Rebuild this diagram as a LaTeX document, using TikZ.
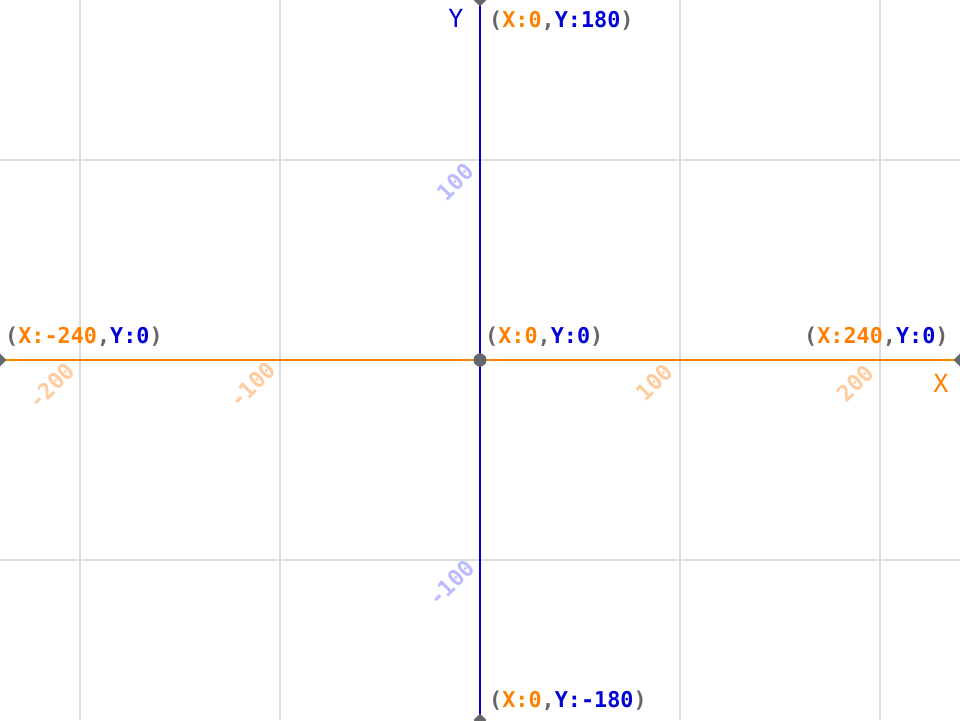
\documentclass[tikz,border=0pt]{standalone}
\usepackage{fontspec}
\setmonofont{DejaVu Sans Mono}
\usetikzlibrary{shapes.geometric}
\definecolor{axorange}{RGB}{255,128,0}
\definecolor{axblue}{RGB}{0,0,215}
\definecolor{lblgray}{RGB}{102,102,102}
\definecolor{gridgray}{RGB}{221,221,221}
\definecolor{tickorange}{RGB}{255,204,160}
\definecolor{tickblue}{RGB}{187,187,255}
\newcommand\coordlbl[2]{{\color{lblgray}(}{\color{axorange}X:#1}{\color{lblgray},}{\color{axblue}Y:#2}{\color{lblgray})}}
\begin{document}
\begin{tikzpicture}[x=1pt,y=1pt,
  gridline/.style={draw=gridgray,line width=2pt},
  coordtext/.style={anchor=base west,inner sep=0pt,font=\fontsize{21.8}{24}\selectfont\ttfamily\bfseries},
  axistext/.style={anchor=base,inner sep=0pt,font=\fontsize{25}{28}\selectfont\ttfamily},
  ticktext/.style={rotate=45,inner sep=0pt,font=\fontsize{22.5}{26}\selectfont\ttfamily\bfseries},
  endmark/.style={diamond,fill=lblgray,inner sep=0pt,minimum size=13pt},
  originmark/.style={circle,fill=lblgray,inner sep=0pt,minimum size=13pt}]
\useasboundingbox (0,0) rectangle (960,720);
\clip (0,0) rectangle (960,720);
\fill[white] (0,0) rectangle (960,720);
% grid
\coordinate (g1t) at (80,720); \coordinate (g1b) at (80,0);
\coordinate (g2t) at (280,720); \coordinate (g2b) at (280,0);
\coordinate (g3t) at (680,720); \coordinate (g3b) at (680,0);
\coordinate (g4t) at (880,720); \coordinate (g4b) at (880,0);
\coordinate (h1l) at (0,560); \coordinate (h1r) at (960,560);
\coordinate (h2l) at (0,160); \coordinate (h2r) at (960,160);
\draw[gridline] (g1t) -- (g1b);
\draw[gridline] (g2t) -- (g2b);
\draw[gridline] (g3t) -- (g3b);
\draw[gridline] (g4t) -- (g4b);
\draw[gridline] (h1l) -- (h1r);
\draw[gridline] (h2l) -- (h2r);
% tick labels
\node[ticktext,text=tickorange] (tm200) at (51,334) {-200};
\node[ticktext,text=tickorange] (tm100) at (252,335) {-100};
\node[ticktext,text=tickorange] (tp100) at (654,338) {100};
\node[ticktext,text=tickorange] (tp200) at (855,337) {200};
\node[ticktext,text=tickblue] (typ100) at (455,538) {100};
\node[ticktext,text=tickblue] (tym100) at (451,137) {-100};
% axes
\coordinate (xl) at (0,360); \coordinate (xr) at (960,360);
\coordinate (yt) at (480,720); \coordinate (yb) at (480,0);
\draw[axorange,line width=2pt] (xl) -- (xr);
\draw[axblue,line width=2pt] (yt) -- (yb);
\node[endmark] (mxl) at (xl) {};
\node[endmark] (mxr) at (xr) {};
\node[endmark] (myt) at (yt) {};
\node[endmark] (myb) at (yb) {};
\node[originmark] (origin) at (480,360) {};
% axis names
\node[axistext,text=axblue] (ylab) at (456,692) {Y};
\node[axistext,text=axorange] (xlab) at (941,327) {X};
% coordinate labels
\node[coordtext] (ctop) at (489,692) {\coordlbl{0}{180}};
\node[coordtext] (cleft) at (5,376) {\coordlbl{-240}{0}};
\node[coordtext] (cright) at (804,376) {\coordlbl{240}{0}};
\node[coordtext] (ccenter) at (485,376) {\coordlbl{0}{0}};
\node[coordtext] (cbottom) at (489,13) {\coordlbl{0}{-180}};
\end{tikzpicture}
\end{document}
